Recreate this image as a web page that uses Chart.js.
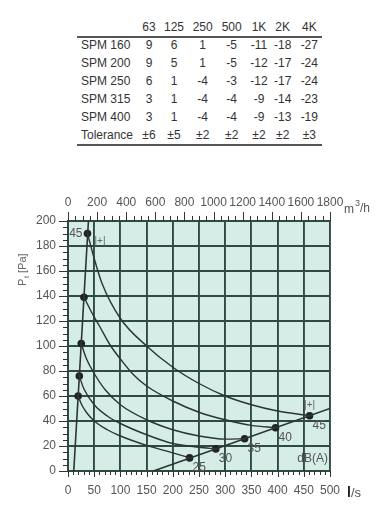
<!DOCTYPE html>
<html>
<head>
<meta charset="utf-8">
<script src="https://cdn.jsdelivr.net/npm/chart.js@4.4.1/dist/chart.umd.min.js"></script>
<style>
  html, body { margin: 0; padding: 0; background: #fff; }
  body { width: 389px; height: 514px; position: relative; overflow: hidden; font-family: Arial, 'Liberation Sans', sans-serif; }
  #fan-chart { position: absolute; left: 0; top: 0; }
  #spm-table { position: absolute; left: 0; top: 0; width: 389px; height: 160px; color: #333; font-size: 12px; }
  .cell { position: absolute; transform: translate(-50%, -50%); white-space: nowrap; }
  .rowlabel { position: absolute; transform: translateY(-50%); white-space: nowrap; }
  .rule { position: absolute; left: 77px; width: 245px; background: #555; }
</style>
</head>
<body>
<div id="spm-table"></div>
<canvas id="fan-chart" width="389" height="514"></canvas>
<script>
// Sound table (dB per octave band)
const bandLabels = ['63', '125', '250', '500', '1K', '2K', '4K'];
const modelNames = ['SPM 160', 'SPM 200', 'SPM 250', 'SPM 315', 'SPM 400'];
const spm160 = [9, 6, 1, -5, -11, -18, -27];
const spm200 = [9, 5, 1, -5, -12, -17, -24];
const spm250 = [6, 1, -4, -3, -12, -17, -24];
const spm315 = [3, 1, -4, -4, -9, -14, -23];
const spm400 = [3, 1, -4, -4, -9, -13, -19];
const tolerance = ['±6', '±5', '±2', '±2', '±2', '±2', '±3'];

// Fan diagram, flow in l/s and total pressure in Pa
const dbLevels = [25, 30, 35, 40, 45];
const curve25 = [[19.4, 60], [25, 54], [35, 47], [50, 40], [75, 33], [100, 28], [150, 20.5], [200, 14.5], [232, 10.5]];
const curve30 = [[21.6, 76], [30, 66], [50, 53], [75, 44], [100, 38], [150, 29], [200, 22], [250, 19], [282, 17.7]];
const curve35 = [[25.3, 102], [35, 90], [50, 78], [71, 65], [100, 53], [150, 41], [200, 33], [250, 28], [300, 25.5], [337, 25.8]];
const curve40 = [[30.5, 139], [45, 127], [60, 116], [80, 101], [103, 88], [125, 77], [150, 68], [200, 56], [250, 47], [300, 41], [350, 36.5], [396, 34.6]];
const curve45 = [[37.2, 190], [50, 170], [65, 150], [100, 122], [150, 100], [200, 83], [250, 70], [300, 60], [350, 53], [400, 48], [461, 44.2]];
const minLine = [[11, 0], [39, 200]];
const maxLine = [[163, 0], [500, 50]];
const minPointsQ = [19.4, 21.6, 25.3, 30.5, 37.2];
const minPointsP = [60, 76, 102, 139, 190];
const maxPointsQ = [232, 282, 337, 396, 461];
const maxPointsP = [10.5, 17.7, 25.8, 34.6, 44.2];

const INK = '#2b3532';
const GRID = '#2f4a44';
const TEXT = '#555';

function buildTable() {
  const box = document.getElementById('spm-table');
  const colX = [149, 174, 202.7, 231.7, 259, 282.7, 309.3];
  const rowY = [45, 63.3, 81, 99, 116.7, 135];
  const rows = [spm160, spm200, spm250, spm315, spm400, tolerance];
  const names = modelNames.concat(['Tolerance']);
  let html = '';
  bandLabels.forEach((b, i) => {
    html += `<div class="cell" style="left:${colX[i]}px;top:26.7px">${b}</div>`;
  });
  html += '<div class="rule" style="top:36px;height:1.5px"></div>';
  rows.forEach((vals, r) => {
    html += `<div class="rowlabel" style="left:81px;top:${rowY[r]}px">${names[r]}</div>`;
    vals.forEach((v, i) => {
      html += `<div class="cell" style="left:${colX[i]}px;top:${rowY[r]}px">${v}</div>`;
    });
  });
  html += '<div class="rule" style="top:143.5px;height:2px"></div>';
  box.innerHTML = html;
}

const toXY = pts => pts.map(p => ({ x: p[0], y: p[1] }));

function curveSet(pts) {
  return {
    data: toXY(pts),
    borderColor: INK,
    borderWidth: 1.4,
    pointRadius: 0,
    cubicInterpolationMode: 'monotone',
    fill: false
  };
}

function pointSet(qs, ps) {
  return {
    data: qs.map((q, i) => ({ x: q, y: ps[i] })),
    showLine: false,
    pointRadius: 3.8,
    pointBackgroundColor: '#1f2422',
    pointBorderColor: '#1f2422',
    pointBorderWidth: 0
  };
}

// backdrop, minor ticks, titles and dB labels
const decorPlugin = {
  id: 'decor',
  beforeDraw(chart) {
    const { ctx, chartArea: a } = chart;
    ctx.save();
    ctx.fillStyle = '#d6ece7';
    ctx.fillRect(a.left, a.top, a.right - a.left, a.bottom - a.top);
    ctx.restore();
  },
  afterDraw(chart) {
    const { ctx, chartArea: a, scales } = chart;
    const x = scales.x, x2 = scales.x2, y = scales.y;
    ctx.save();
    ctx.strokeStyle = '#333';
    ctx.lineWidth = 1;
    ctx.beginPath();
    for (let v = 0; v <= 200; v += 5) {
      const py = Math.round(y.getPixelForValue(v)) + 0.5;
      ctx.moveTo(a.left - (v % 20 === 0 ? 9 : 5), py);
      ctx.lineTo(a.left, py);
    }
    for (let v = 0; v <= 500; v += 10) {
      const px = Math.round(x.getPixelForValue(v)) + 0.5;
      ctx.moveTo(px, a.bottom);
      ctx.lineTo(px, a.bottom + (v % 50 === 0 ? 6 : 4));
    }
    for (let v = 0; v <= 1800; v += 50) {
      const px = Math.round(x2.getPixelForValue(v)) + 0.5;
      ctx.moveTo(px, a.top);
      ctx.lineTo(px, a.top - (v % 200 === 0 ? 9 : 5));
    }
    ctx.stroke();

    // axis titles
    ctx.textAlign = 'left';
    ctx.textBaseline = 'alphabetic';
    ctx.fillStyle = TEXT;
    ctx.font = '12px Arial';
    ctx.fillText('m', a.right + 14, 213);
    ctx.font = '9px Arial';
    ctx.fillText('3', a.right + 25, 206);
    ctx.font = '12px Arial';
    ctx.fillText('/h', a.right + 30, 212);

    ctx.fillStyle = '#222';
    ctx.font = 'bold 14px Arial';
    ctx.fillText('l', a.right + 17, 497);
    ctx.fillStyle = TEXT;
    ctx.font = '13px Arial';
    ctx.fillText('/s', a.right + 21, 497);

    ctx.save();
    ctx.translate(26, 286);
    ctx.rotate(-Math.PI / 2);
    ctx.textAlign = 'left';
    ctx.font = '11px Arial';
    ctx.fillStyle = '#666';
    ctx.fillText('P', 0, 0);
    ctx.font = '8px Arial';
    ctx.fillText('t', 8, 3);
    ctx.font = '11px Arial';
    ctx.fillText('[Pa]', 13, 0);
    ctx.restore();

    // dB(A) labels next to the operating points
    ctx.font = '12px Arial';
    ctx.fillStyle = TEXT;
    ctx.textBaseline = 'middle';
    const topQ = minPointsQ[minPointsQ.length - 1];
    const topP = minPointsP[minPointsP.length - 1];
    ctx.textAlign = 'right';
    ctx.fillText(String(dbLevels[dbLevels.length - 1]), x.getPixelForValue(topQ) - 5, y.getPixelForValue(topP));
    ctx.textAlign = 'left';
    dbLevels.forEach((db, i) => {
      ctx.fillText(String(db), x.getPixelForValue(maxPointsQ[i]) + 3, y.getPixelForValue(maxPointsP[i]) + 10);
    });
    ctx.textAlign = 'right';
    ctx.fillText('dB(A)', a.right - 2, a.bottom - 12);

    ctx.font = '10px Arial';
    ctx.fillStyle = '#666';
    ctx.textAlign = 'left';
    ctx.fillText('|+|', x.getPixelForValue(topQ) + 7, y.getPixelForValue(topP) + 8);
    const lastQ = maxPointsQ[maxPointsQ.length - 1];
    const lastP = maxPointsP[maxPointsP.length - 1];
    ctx.textAlign = 'center';
    ctx.fillText('|+|', x.getPixelForValue(lastQ), y.getPixelForValue(lastP) - 11);
    ctx.restore();
  }
};

const tickFont = { family: 'Arial', size: 12 };
const plainTick = v => String(v);

function loadChart() {
  const ctx = document.getElementById('fan-chart').getContext('2d');
  new Chart(ctx, {
    type: 'line',
    data: {
      datasets: [
        curveSet(curve25),
        curveSet(curve30),
        curveSet(curve35),
        curveSet(curve40),
        curveSet(curve45),
        Object.assign(curveSet(minLine), { borderWidth: 1.6 }),
        Object.assign(curveSet(maxLine), { borderWidth: 1.6 }),
        pointSet(minPointsQ, minPointsP),
        pointSet(maxPointsQ, maxPointsP)
      ]
    },
    options: {
      responsive: false,
      animation: false,
      layout: { padding: { left: 0, right: 59, top: 0, bottom: 0 } },
      plugins: { legend: { display: false }, tooltip: { enabled: false } },
      scales: {
        x: {
          type: 'linear', position: 'bottom', min: 0, max: 500,
          ticks: { stepSize: 50, autoSkip: false, maxRotation: 0, padding: 12, color: TEXT, font: tickFont, callback: plainTick },
          grid: { color: GRID, lineWidth: 1.9, drawTicks: false },
          border: { color: GRID, width: 1.9 },
          afterFit: s => { s.height = 43; }
        },
        x2: {
          type: 'linear', position: 'top', min: 0, max: 1800,
          ticks: { stepSize: 200, autoSkip: false, maxRotation: 0, padding: 11, color: TEXT, font: tickFont, callback: plainTick },
          grid: { display: false, drawTicks: false },
          border: { display: false },
          afterFit: s => { s.height = 221; }
        },
        y: {
          min: 0, max: 200,
          ticks: { stepSize: 20, padding: 12, color: TEXT, font: tickFont, callback: plainTick },
          grid: { color: GRID, lineWidth: 1.9, drawTicks: false },
          border: { color: GRID, width: 1.9 },
          afterFit: s => { s.width = 68; }
        }
      }
    },
    plugins: [decorPlugin]
  });
}

document.addEventListener('DOMContentLoaded', () => {
  buildTable();
  loadChart();
});
</script>
</body>
</html>
